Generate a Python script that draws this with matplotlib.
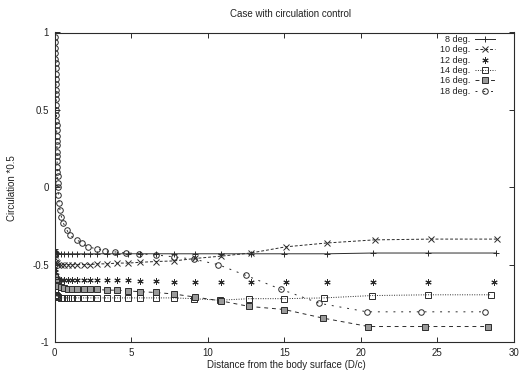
import matplotlib
matplotlib.use("Agg")
import matplotlib.pyplot as plt

plt.rcParams['font.family'] = ['Liberation Sans', 'DejaVu Sans']

# Distance grids (D/c) and circulation values for each angle of attack
x_8 = [0.02, 0.04, 0.08, 0.15, 0.25, 0.4, 0.6, 0.85, 1.15, 1.5, 1.9, 2.3, 2.8, 3.4,
       4.1, 4.8, 5.6, 6.6, 7.8, 9.2, 10.9, 12.8, 15.0, 17.8, 20.8, 24.4, 28.8]
y_8 = [-0.40, -0.41, -0.42, -0.425, -0.43, -0.43, -0.43, -0.43, -0.43, -0.43, -0.43,
       -0.43, -0.43, -0.43, -0.43, -0.43, -0.43, -0.43, -0.43, -0.43, -0.43, -0.43,
       -0.43, -0.43, -0.425, -0.425, -0.425]

x_10 = [0.02, 0.04, 0.08, 0.15, 0.25, 0.4, 0.6, 0.85, 1.15, 1.5, 1.9, 2.3, 2.8, 3.4,
        4.1, 4.8, 5.6, 6.6, 7.8, 9.2, 10.9, 12.8, 15.1, 17.8, 20.9, 24.6, 28.9]
y_10 = [-0.44, -0.46, -0.48, -0.49, -0.50, -0.50, -0.50, -0.50, -0.50, -0.50, -0.50,
        -0.50, -0.495, -0.495, -0.49, -0.49, -0.485, -0.48, -0.476, -0.46, -0.445,
        -0.425, -0.385, -0.36, -0.34, -0.335, -0.335]

x_12 = [0.02, 0.04, 0.08, 0.15, 0.25, 0.4, 0.6, 0.85, 1.15, 1.5, 1.9, 2.3, 2.8, 3.4,
        4.1, 4.8, 5.6, 6.6, 7.8, 9.2, 10.9, 12.8, 15.1, 17.8, 20.8, 24.4, 28.7]
y_12 = [-0.53, -0.55, -0.57, -0.585, -0.595, -0.60, -0.60, -0.60, -0.60, -0.60, -0.60,
        -0.60, -0.60, -0.60, -0.60, -0.60, -0.605, -0.605, -0.61, -0.61, -0.61, -0.61,
        -0.61, -0.61, -0.61, -0.61, -0.61]

x_14 = [0.02, 0.04, 0.08, 0.15, 0.25, 0.4, 0.6, 0.85, 1.15, 1.5, 1.9, 2.3, 2.8, 3.4,
        4.1, 4.8, 5.6, 6.6, 7.8, 9.1, 10.8, 12.7, 15.0, 17.6, 20.7, 24.4, 28.5]
y_14 = [-0.66, -0.68, -0.695, -0.705, -0.71, -0.715, -0.715, -0.715, -0.715, -0.715,
        -0.715, -0.715, -0.715, -0.715, -0.715, -0.715, -0.715, -0.715, -0.715, -0.72,
        -0.73, -0.72, -0.72, -0.715, -0.70, -0.695, -0.695]

x_16 = [0.02, 0.04, 0.08, 0.15, 0.25, 0.4, 0.6, 0.85, 1.15, 1.5, 1.9, 2.3, 2.8, 3.4,
        4.1, 4.8, 5.6, 6.6, 7.8, 9.2, 10.9, 12.7, 15.0, 17.5, 20.5, 24.2, 28.3]
y_16 = [-0.58, -0.60, -0.615, -0.63, -0.64, -0.645, -0.65, -0.655, -0.66, -0.66,
        -0.66, -0.66, -0.66, -0.665, -0.665, -0.67, -0.675, -0.68, -0.69, -0.71,
        -0.735, -0.77, -0.79, -0.845, -0.90, -0.90, -0.90]

x_18 = [0.02, 0.03, 0.04, 0.05, 0.06, 0.07, 0.08, 0.08, 0.09, 0.10, 0.10, 0.11, 0.11,
        0.12, 0.12, 0.13, 0.13, 0.14, 0.14, 0.15, 0.15, 0.16, 0.16, 0.17, 0.17, 0.18,
        0.19, 0.20, 0.21, 0.22, 0.26, 0.30, 0.36, 0.45, 0.57, 0.8, 1.0, 1.45, 1.8, 2.2,
        2.8, 3.3, 3.95, 4.7, 5.5, 6.6, 7.8, 9.1, 10.7, 12.5, 14.8, 17.3, 20.4, 23.9, 28.1]
y_18 = [0.97, 0.94, 0.90, 0.87, 0.83, 0.80, 0.77, 0.73, 0.70, 0.67, 0.63, 0.60, 0.57,
        0.53, 0.50, 0.47, 0.43, 0.40, 0.37, 0.33, 0.30, 0.27, 0.23, 0.20, 0.17, 0.13,
        0.10, 0.07, 0.03, 0.00, -0.05, -0.10, -0.15, -0.19, -0.23, -0.275, -0.31,
        -0.34, -0.36, -0.385, -0.40, -0.41, -0.418, -0.424, -0.43, -0.437, -0.45,
        -0.465, -0.50, -0.57, -0.66, -0.75, -0.805, -0.805, -0.805]

labels = ['8 deg.', '10 deg.', '12 deg.', '14 deg.', '16 deg.', '18 deg.']
x_ticks = [0, 5, 10, 15, 20, 25, 30]
y_ticks = [-1, -0.5, 0, 0.5, 1]
y_tick_labels = ['-1', '-0.5', '0', '0.5', '1']

ink = '#2b2b2b'
W, H = 520, 373
fig = plt.figure(figsize=(W / 100, H / 100), dpi=100)
ax = fig.add_axes([54.5 / W, 1 - 342 / H, (514 - 54.5) / W, (342 - 32.5) / H])

lw = 0.7
ax.plot(x_8, y_8, color=ink, lw=lw, ls='-', marker='+', ms=4.5, mew=0.7, label=labels[0])
ax.plot(x_10, y_10, color=ink, lw=lw, ls=(0, (3, 2)), marker='x', ms=3.8, mew=0.7,
        label=labels[1])
ax.plot(x_12, y_12, color=ink, lw=0, ls='none', marker=(6, 2, 0), ms=4.5, mew=0.7,
        label=labels[2])
ax.plot(x_14, y_14, color=ink, lw=lw, ls=(0, (1, 1.5)), marker='s', ms=4, mew=0.7,
        mfc='none', label=labels[3])
ax.plot(x_16, y_16, color=ink, lw=lw, ls=(0, (4, 4)), marker='s', ms=4, mew=0.7,
        mfc='#9a9a9a', label=labels[4])
ax.plot(x_18, y_18, color=ink, lw=lw, ls=(0, (2, 6)), marker='o', ms=4, mew=0.7,
        mfc='none', label=labels[5])

ax.set_xlim(0, 30)
ax.set_ylim(-1, 1)
ax.set_xticks(x_ticks)
ax.set_yticks(y_ticks)
ax.set_yticklabels(y_tick_labels)
ax.tick_params(direction='in', length=3.5, width=0.7, color=ink, labelsize=7,
               labelcolor='#222222', top=True, right=True, pad=4)
for s in ax.spines.values():
    s.set_color(ink)
    s.set_linewidth(0.8)

leg = ax.legend(loc='upper right', bbox_to_anchor=(495 / W, 1 - 35 / H),
                bbox_transform=fig.transFigure, frameon=False, markerfirst=False,
                fontsize=6.5, handlelength=2.2, handletextpad=0.5, labelspacing=0.15,
                borderpad=0, borderaxespad=0)
for t in leg.get_texts():
    t.set_color('#222222')

fig.text(290 / W, 1 - 14 / H, 'Case with circulation control', ha='center', va='center',
         fontsize=7, color='#222222')
fig.text(286 / W, 1 - 365 / H, 'Distance from the body surface (D/c)', ha='center',
         va='center', fontsize=7, color='#222222')
fig.text(12 / W, 1 - 188 / H, 'Circulation *0.5', ha='center', va='center',
         rotation=90, fontsize=7, color='#222222')

fig.savefig('out.png', dpi=100)
